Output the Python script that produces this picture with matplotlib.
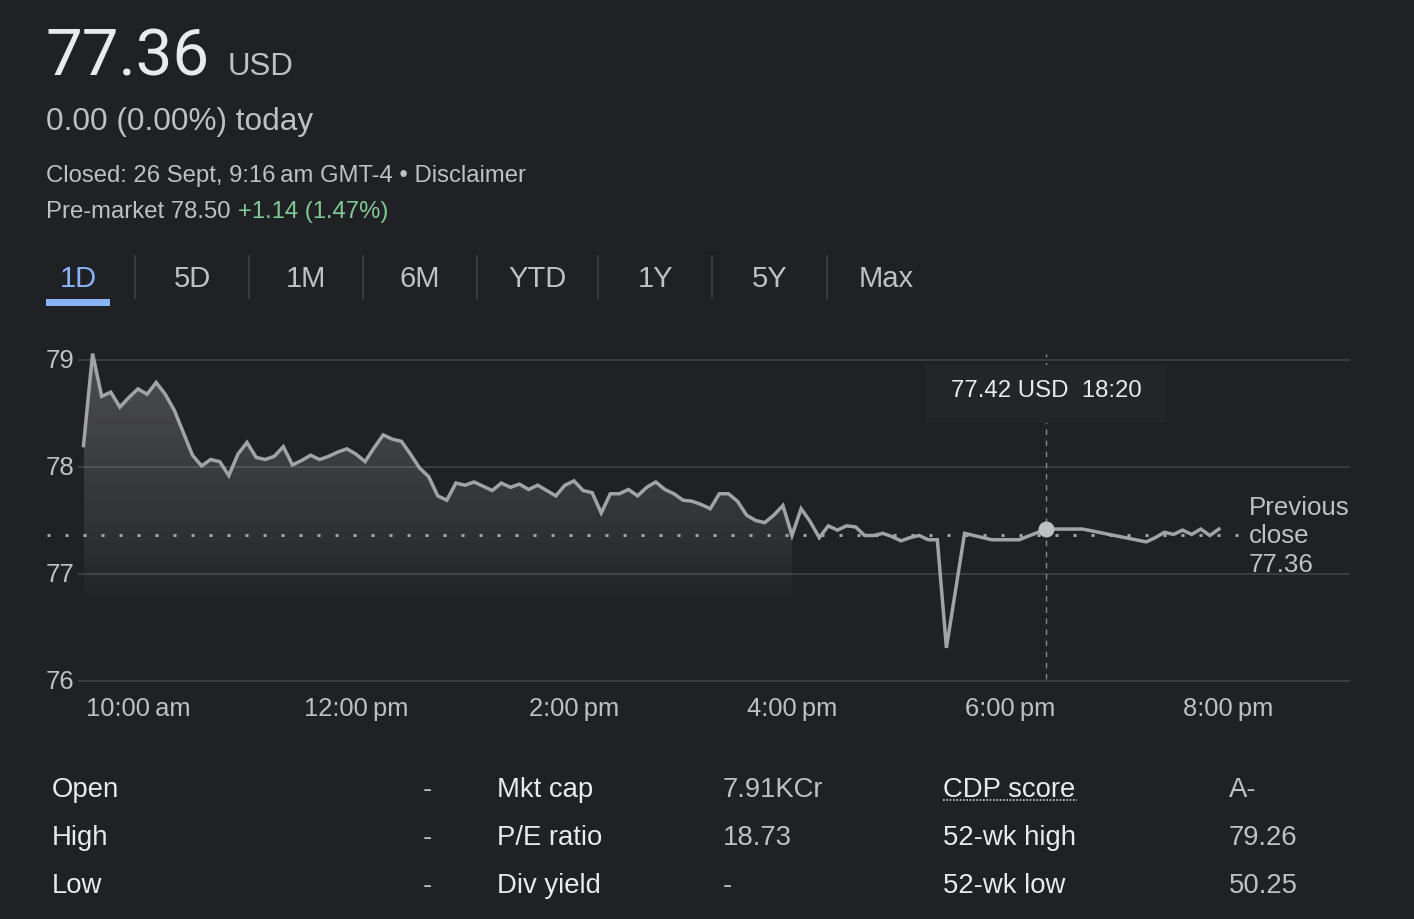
import matplotlib.pyplot as plt
import numpy as np
from matplotlib.patches import Polygon, Rectangle
from matplotlib.transforms import blended_transform_factory

plt.rcParams["font.family"] = ["Liberation Sans", "DejaVu Sans"]
plt.rcParams["lines.scale_dashes"] = False

W, H = 1414, 920
BG = "#202124"
GRID = "#3c4043"
LINE = "#a0a4a8"
TEXT = "#e8eaed"
MUTED = "#bdc1c6"
GREEN = "#81c995"
BLUE = "#8ab4f8"

# intraday prices, 5 minute steps (some after-hours gaps)
times = [
    "09:30", "09:35", "09:40", "09:45", "09:50", "09:55", "10:00", "10:05", "10:10", "10:15",
    "10:20", "10:25", "10:30", "10:35", "10:40", "10:45", "10:50", "10:55", "11:00", "11:05",
    "11:10", "11:15", "11:20", "11:25", "11:30", "11:35", "11:40", "11:45", "11:50", "11:55",
    "12:00", "12:05", "12:10", "12:15", "12:20", "12:25", "12:30", "12:35", "12:40", "12:45",
    "12:50", "12:55", "13:00", "13:05", "13:10", "13:15", "13:20", "13:25", "13:30", "13:35",
    "13:40", "13:45", "13:50", "13:55", "14:00", "14:05", "14:10", "14:15", "14:20", "14:25",
    "14:30", "14:35", "14:40", "14:45", "14:50", "14:55", "15:00", "15:05", "15:10", "15:15",
    "15:20", "15:25", "15:30", "15:35", "15:40", "15:45", "15:50", "15:55", "16:00",
    "16:05", "16:10", "16:15", "16:20", "16:25", "16:30", "16:35", "16:40", "16:45", "16:50",
    "16:55", "17:00", "17:05", "17:10", "17:15", "17:20", "17:25", "17:35", "17:40", "17:50",
    "18:05", "18:20", "18:25", "18:40", "19:15", "19:20", "19:25", "19:30", "19:35", "19:40",
    "19:45", "19:50", "19:55",
]
prices = [
    78.20, 79.06, 78.66, 78.70, 78.56, 78.65, 78.73, 78.68, 78.79, 78.68,
    78.53, 78.32, 78.11, 78.01, 78.07, 78.05, 77.92, 78.12, 78.23, 78.09,
    78.07, 78.10, 78.19, 78.02, 78.06, 78.11, 78.07, 78.10, 78.14, 78.17,
    78.12, 78.05, 78.18, 78.30, 78.26, 78.24, 78.12, 77.99, 77.91, 77.73,
    77.69, 77.85, 77.83, 77.86, 77.82, 77.78, 77.85, 77.81, 77.84, 77.79,
    77.83, 77.78, 77.73, 77.83, 77.87, 77.78, 77.76, 77.57, 77.75, 77.75,
    77.79, 77.73, 77.81, 77.86, 77.79, 77.75, 77.69, 77.68, 77.65, 77.61,
    77.75, 77.75, 77.68, 77.55, 77.50, 77.48, 77.55, 77.64, 77.36,
    77.61, 77.49, 77.34, 77.45, 77.41, 77.45, 77.44, 77.36, 77.36, 77.38,
    77.35, 77.31, 77.34, 77.36, 77.32, 77.32, 76.31, 77.38, 77.36, 77.32,
    77.32, 77.42, 77.42, 77.42, 77.30, 77.34, 77.39, 77.37, 77.41, 77.37,
    77.42, 77.36, 77.42,
]
prev_close = 77.36
market_close = "16:00"
hover_time = "18:20"
hover_price = 77.42

y_ticks = [76, 77, 78, 79]
x_ticks = ["10:00", "12:00", "14:00", "16:00", "18:00", "20:00"]
x_tick_labels = ["10:00\u2009am", "12:00\u2009pm", "2:00\u2009pm", "4:00\u2009pm", "6:00\u2009pm", "8:00\u2009pm"]

tabs = ["1D", "5D", "1M", "6M", "YTD", "1Y", "5Y", "Max"]
tab_x = [78, 192, 306, 420, 537, 656, 770, 886]
tab_sep_x = [135, 249, 363, 477, 598, 712, 827]

stat_rows = [
    ["Open", "-", "Mkt cap", "7.91KCr", "CDP score", "A-"],
    ["High", "-", "P/E ratio", "18.73", "52-wk high", "79.26"],
    ["Low", "-", "Div yield", "-", "52-wk low", "50.25"],
]
stat_col_x = [52, 423, 497, 723, 943, 1229]
stat_row_y = [797, 845, 893]


def minutes(t):
    h, m = t.split(":")
    return int(h) * 60 + int(m)


def fx(x):
    return x / W


def fy(y):
    return 1 - y / H


fig = plt.figure(figsize=(W / 100, H / 100), dpi=100, facecolor=BG)

# header
fig.text(fx(45), fy(75), "77.36", fontsize=47, color=TEXT, va="baseline", family="Roboto")
fig.text(fx(228), fy(75), "USD", fontsize=22.5, color=MUTED, va="baseline")
fig.text(fx(46), fy(130), "0.00 (0.00%) today", fontsize=22.7, color=MUTED, va="baseline")
fig.text(fx(46), fy(182), "Closed: 26 Sept, 9:16\u2009am GMT-4 \u2022 Disclaimer",
         fontsize=17.2, color=MUTED, va="baseline")
fig.text(fx(46), fy(218), "Pre-market 78.50", fontsize=17.2, color=MUTED, va="baseline")
fig.text(fx(238), fy(218), "+1.14 (1.47%)", fontsize=17.2, color=GREEN, va="baseline")

# range tabs
for label, x in zip(tabs, tab_x):
    fig.text(fx(x), fy(287), label, fontsize=21, ha="center", va="baseline",
             color=BLUE if label == "1D" else MUTED)
for x in tab_sep_x:
    fig.add_artist(plt.Line2D([fx(x), fx(x)], [fy(257), fy(299)], color=GRID, lw=1.3))
fig.add_artist(Rectangle((fx(46), fy(307)), fx(64), 7 / H, color=BLUE, lw=0))

# chart
px_per_min = 109 / 60
ax = fig.add_axes([fx(78), fy(690), fx(1350 - 78), 350 / H])
ax.set_facecolor(BG)
for s in ax.spines.values():
    s.set_visible(False)

t = np.array([minutes(v) for v in times])
p = np.array(prices)
t_close = minutes(market_close)

# tooltip box (behind the chart marks)
fig.add_artist(Rectangle((fx(926), fy(424)), fx(240), 58 / H, color="#242528", lw=0, zorder=0.5))

for yv in y_ticks:
    ax.axhline(yv, color=GRID, lw=1.3, zorder=1)

# gradient fill under the regular-session line
fill_bottom = 76.7
mask = t <= t_close
poly_pts = list(zip(t[mask], p[mask])) + [(t_close, fill_bottom), (t[0], fill_bottom)]
poly = Polygon(poly_pts, closed=True, facecolor="none", edgecolor="none")
ax.add_patch(poly)
grad = np.zeros((256, 1, 4))
grad[:, 0, :3] = 1.0
grad[:, 0, 3] = np.linspace(0.0, 1.0, 256) ** 0.8 * 0.2
img = ax.imshow(grad, extent=[t[0], t_close, fill_bottom, p.max()], origin="lower",
                aspect="auto", zorder=1.5, interpolation="bilinear")
img.set_clip_path(poly)

# previous close dotted line
trans = blended_transform_factory(fig.transFigure, ax.transData)
ax.plot([fx(47), fx(1240)], [prev_close, prev_close], transform=trans, clip_on=False,
        color=LINE, lw=2.2, dashes=(2.2, 10.76), dash_capstyle="butt", zorder=2)

ax.plot(t, p, color=LINE, lw=2.5, solid_joinstyle="miter", zorder=3)

# hover marker
th = minutes(hover_time)
ax.vlines(th, 76.02, 79.06, color=LINE, lw=1, linestyles=(0, (4, 4)), alpha=0.8, zorder=2.5)
ax.plot(th, hover_price, "o", ms=10.5, color=MUTED, zorder=4)

ax.set_xlim(570 - 5.5 / px_per_min, 570 + 1266.5 / px_per_min)
ax.set_ylim(76 - 8 / 107, 79 + 21 / 107)
ax.set_xticks([])
ax.set_yticks([])
ax.patch.set_alpha(0)

for yv in y_ticks:
    fig.text(fx(46), ax.transData.transform((0, yv))[1] / H, str(yv), fontsize=18.5,
             color=MUTED, va="center")
for tk, lab in zip(x_ticks, x_tick_labels):
    ax.text(minutes(tk), -0.055, lab, transform=ax.get_xaxis_transform(), fontsize=18.4,
            color=MUTED, ha="center", va="center")

ax.text(1.0 - (1350 - 1249) / (1350 - 78), prev_close, "Previous\nclose\n77.36",
        transform=ax.get_yaxis_transform(), fontsize=18.6, color=MUTED, ha="left",
        va="center", linespacing=1.25)

fig.text(fx(1046), fy(391), "77.42 USD  18:20", fontsize=17.3, color=TEXT,
         ha="center", va="center")

# stats table
for row, yb in zip(stat_rows, stat_row_y):
    for j, (cell, x) in enumerate(zip(row, stat_col_x)):
        color = TEXT if j % 2 == 0 else MUTED
        fig.text(fx(x), fy(yb), cell, fontsize=19.8, color=color, va="baseline")
fig.add_artist(plt.Line2D([fx(943), fx(1077)], [fy(801), fy(801)], color=MUTED, lw=1.3,
                          dashes=(1.2, 1.2)))

fig.savefig("out.png", dpi=100, facecolor=BG)
